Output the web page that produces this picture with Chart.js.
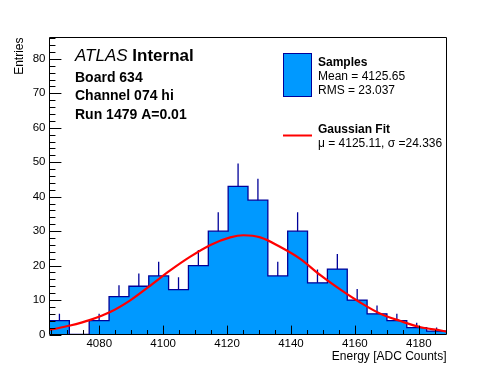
<!DOCTYPE html>
<html>
<head>
<meta charset="utf-8">
<script src="https://cdn.jsdelivr.net/npm/chart.js@4.4.1/dist/chart.umd.min.js"></script>
<style>
html,body{margin:0;padding:0;background:#fff;}
#wrap{width:496px;height:372px;}
</style>
</head>
<body>
<div id="wrap"><canvas id="c" width="496" height="372"></canvas></div>
<script>
// ---- data ----
const binEdges = [4064.43, 4070.64, 4076.85, 4083.07, 4089.28, 4095.49, 4101.70, 4107.91, 4114.13, 4120.34,
                  4126.55, 4132.76, 4138.97, 4145.18, 4151.40, 4157.61, 4163.82, 4170.03, 4176.24, 4182.46, 4188.67];
const counts   = [4, 0, 4, 11, 14, 17, 13, 20, 30, 43, 39, 17, 30, 15, 19, 10, 6, 4, 2, 1];
const errUp    = [2, 0, 2, 3.3, 3.7, 4.1, 3.6, 4.5, 5.5, 6.6, 6.2, 4.1, 5.5, 3.9, 4.4, 3.2, 2.4, 2, 1.4, 1];
const fitX = [4064.6, 4070.9, 4077.2, 4083.4, 4089.7, 4096.0, 4102.2, 4108.5, 4114.8, 4121.0, 4125.1,
              4130.4, 4136.7, 4143.0, 4149.2, 4155.5, 4161.8, 4168.0, 4174.3, 4180.6, 4186.9, 4188.7];
const fitY = [1.35, 2.6, 4.25, 6.5, 9.9, 14.2, 18.6, 22.6, 26.0, 28.2, 28.8,
              28.2, 25.4, 21.9, 17.2, 13.0, 9.2, 6.0, 3.9, 2.1, 1.15, 0.85];
const xTickValues = [4080, 4100, 4120, 4140, 4160, 4180];
const yTickValues = [0, 10, 20, 30, 40, 50, 60, 70, 80];
const xRange = [4064.43, 4188.67];
const yRange = [0, 86.2];
const xTitle = 'Energy [ADC Counts]';
const yTitle = 'Entries';
const infoLines = ['Board 634', 'Channel 074 hi', 'Run 1479 A=0.01'];
const legendHist = ['Samples', 'Mean = 4125.65', 'RMS = 23.037'];
const legendFit = ['Gaussian Fit', 'μ = 4125.11, σ =24.336'];

// ---- build datasets ----
const histData = binEdges.map((e, i) => ({x: e, y: i < counts.length ? counts[i] : counts[counts.length - 1]}));
const errData = [];
counts.forEach((c, i) => {
  if (c <= 0) return;
  const cx = (binEdges[i] + binEdges[i + 1]) / 2;
  errData.push({x: cx, y: c}, {x: cx, y: c + errUp[i]}, {x: cx, y: null});
});
const fitData = fitX.map((x, i) => ({x, y: fitY[i]}));

const FONT = "'Liberation Sans', Arial, Helvetica, sans-serif";
const FILL = '#0099ff';
const NAVY = '#000099';

const framePlugin = {
  id: 'frame',
  afterDatasetsDraw(chart) {
    const {ctx, chartArea: a, scales: {x, y}} = chart;
    ctx.save();
    ctx.strokeStyle = '#000';
    ctx.lineWidth = 1;
    ctx.beginPath();
    ctx.rect(a.left, a.top, a.right - a.left, a.bottom - a.top);
    ctx.stroke();
    const h = a.bottom - a.top, w = a.right - a.left;
    const xMaj = 0.03 * h, yMaj = 0.03 * w;
    ctx.beginPath();
    // x ticks (major every 20, minor every 5)
    for (let v = Math.ceil(xRange[0] / 5) * 5; v <= xRange[1]; v += 5) {
      const px = Math.round(x.getPixelForValue(v)) + 0.5;
      const len = (v % 20 === 0) ? xMaj : xMaj / 2;
      ctx.moveTo(px, a.bottom);
      ctx.lineTo(px, a.bottom - len);
    }
    // y ticks (major every 10, minor every 2)
    for (let v = 0; v <= yRange[1]; v += 2) {
      const py = Math.round(y.getPixelForValue(v)) + 0.5;
      const len = (v % 10 === 0) ? yMaj : yMaj / 2;
      ctx.moveTo(a.left, py);
      ctx.lineTo(a.left + len, py);
    }
    ctx.stroke();
    ctx.restore();
  },
  afterDraw(chart) {
    const {ctx} = chart;
    ctx.save();
    ctx.fillStyle = '#000';
    ctx.textBaseline = 'alphabetic';
    ctx.textAlign = 'left';
    // ATLAS Internal
    ctx.font = `italic 17px ${FONT}`;
    ctx.fillText('ATLAS', 75, 61);
    const wA = ctx.measureText('ATLAS ').width;
    ctx.font = `bold 17px ${FONT}`;
    ctx.fillText('Internal', 75 + wA, 61);
    ctx.font = `bold 14px ${FONT}`;
    infoLines.forEach((t, i) => ctx.fillText(t, 75, 81.5 + i * 18.5));
    // legend: histogram
    ctx.fillStyle = FILL;
    ctx.fillRect(283.5, 53.5, 28, 43);
    ctx.strokeStyle = NAVY;
    ctx.lineWidth = 1;
    ctx.strokeRect(283.5, 53.5, 28, 43);
    ctx.fillStyle = '#000';
    ctx.font = `bold 12px ${FONT}`;
    ctx.fillText(legendHist[0], 318, 65.5);
    ctx.font = `12px ${FONT}`;
    ctx.fillText(legendHist[1], 318, 80);
    ctx.fillText(legendHist[2], 318, 94);
    // legend: fit
    ctx.strokeStyle = '#ff0000';
    ctx.lineWidth = 2;
    ctx.beginPath();
    ctx.moveTo(283, 135.5);
    ctx.lineTo(312, 135.5);
    ctx.stroke();
    ctx.font = `bold 12px ${FONT}`;
    ctx.fillText(legendFit[0], 318, 132.5);
    ctx.font = `12px ${FONT}`;
    ctx.fillText(legendFit[1], 318, 146.5);
    ctx.restore();
  }
};

new Chart(document.getElementById('c'), {
  type: 'line',
  data: {
    datasets: [
      {
        label: 'Samples', data: histData, stepped: 'before',
        borderColor: NAVY, borderWidth: 1.3, backgroundColor: FILL,
        fill: 'origin', pointRadius: 0, order: 3
      },
      {
        label: 'errors', data: errData, spanGaps: false,
        borderColor: NAVY, borderWidth: 1.3, pointRadius: 0, fill: false, order: 2
      },
      {
        label: 'Gaussian Fit', data: fitData, cubicInterpolationMode: 'monotone',
        borderColor: '#ff0000', borderWidth: 2.2, pointRadius: 0, fill: false, order: 1
      }
    ]
  },
  options: {
    responsive: false,
    animation: false,
    devicePixelRatio: 1,
    layout: {padding: {left: 0, right: 49.5, top: 37.5, bottom: 0}},
    plugins: {legend: {display: false}, tooltip: {enabled: false}},
    scales: {
      x: {
        type: 'linear', min: xRange[0], max: xRange[1],
        afterFit: s => { s.height = 37.5; },
        afterBuildTicks: s => { s.ticks = xTickValues.map(v => ({value: v})); },
        grid: {display: false, drawTicks: false},
        border: {display: false},
        ticks: {padding: 2, color: '#000', font: {family: FONT, size: 11.5}, maxRotation: 0, autoSkip: false,
                callback: v => String(v)},
        title: {display: true, text: xTitle, align: 'end', color: '#000',
                font: {family: FONT, size: 12}, padding: {top: 0, bottom: 8}}
      },
      y: {
        type: 'linear', min: yRange[0], max: yRange[1],
        afterFit: s => { s.width = 49.5; },
        afterBuildTicks: s => { s.ticks = yTickValues.map(v => ({value: v})); },
        grid: {display: false, drawTicks: false},
        border: {display: false},
        ticks: {padding: 4, color: '#000', font: {family: FONT, size: 11.5}, autoSkip: false,
                callback: v => String(v)},
        title: {display: true, text: yTitle, align: 'end', color: '#000',
                font: {family: FONT, size: 12}, padding: {top: 12, bottom: 0}}
      }
    }
  },
  plugins: [framePlugin]
});
</script>
</body>
</html>
